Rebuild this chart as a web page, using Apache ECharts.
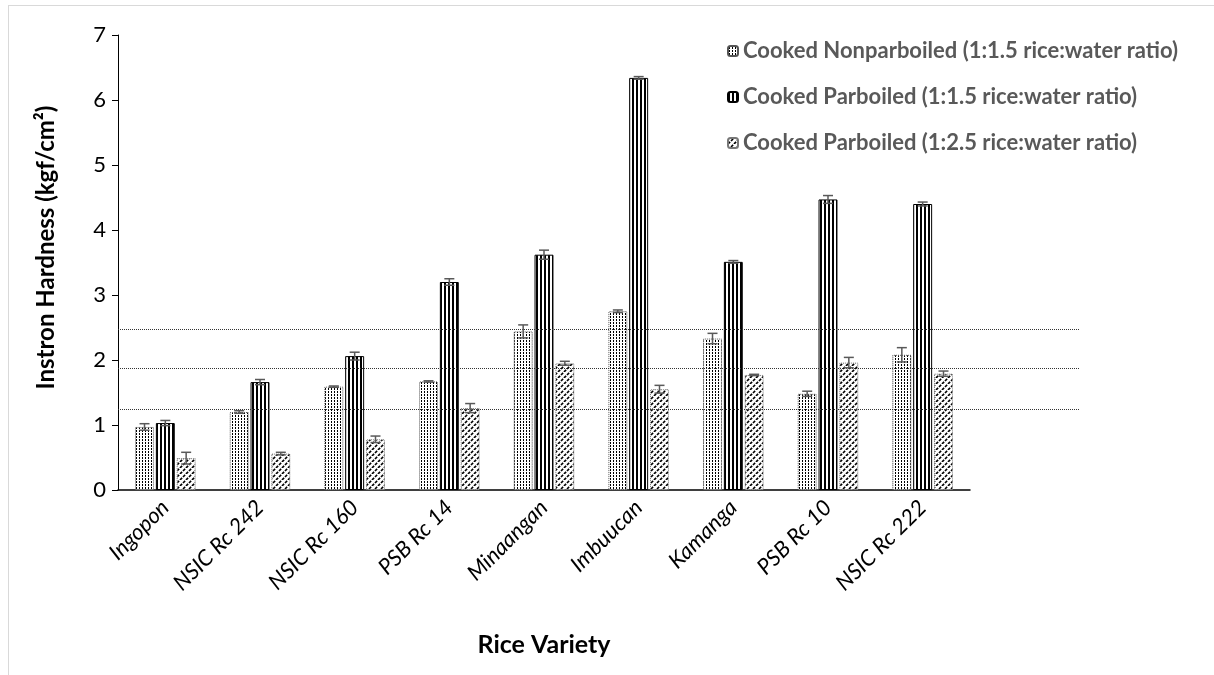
<!DOCTYPE html>
<html>
<head>
<meta charset="utf-8">
<script src="https://cdn.jsdelivr.net/npm/echarts@6/dist/echarts.min.js"></script>
<style>
  html, body { margin: 0; padding: 0; background: #fff; }
  #frame { position: absolute; left: 8px; top: 5px; width: 1300px; height: 700px;
           border-left: 1px solid #d9d9d9; border-top: 1px solid #d9d9d9; }
  #chart { position: absolute; left: 0; top: 0; width: 1214px; height: 675px; }
</style>
</head>
<body>
<div id="frame"></div>
<div id="chart"></div>
<script>
// rice varieties and hardness readings (kgf/cm2)
const categories = ['Ingopon', 'NSIC Rc 242', 'NSIC Rc 160', 'PSB Rc 14', 'Minaangan', 'Imbuucan', 'Kamanga', 'PSB Rc 10', 'NSIC Rc 222'];
const seriesNames = [
  'Cooked Nonparboiled (1:1.5 rice:water ratio)',
  'Cooked Parboiled (1:1.5 rice:water ratio)',
  'Cooked Parboiled (1:2.5 rice:water ratio)'
];
const nonParboiled = [0.97, 1.20, 1.59, 1.67, 2.44, 2.75, 2.33, 1.48, 2.08];
const nonParboiledErr = [0.05, 0.02, 0.01, 0.01, 0.10, 0.02, 0.08, 0.04, 0.11];
const parboiled15 = [1.03, 1.66, 2.06, 3.20, 3.62, 6.34, 3.51, 4.47, 4.40];
const parboiled15Err = [0.04, 0.04, 0.06, 0.05, 0.07, 0.02, 0.02, 0.06, 0.03];
const parboiled25 = [0.49, 0.56, 0.78, 1.26, 1.95, 1.55, 1.77, 1.96, 1.79];
const parboiled25Err = [0.09, 0.02, 0.05, 0.07, 0.03, 0.06, 0.01, 0.08, 0.04];
const refLines = [2.48, 1.88, 1.25];

const CAT_GAP = 0.36, BAR_GAP = 0.10;
const FONT = 'Lato';

// fill patterns (like the Excel ones)
function makePattern(w, h, draw) {
  const c = document.createElement('canvas');
  c.width = w; c.height = h;
  const ctx = c.getContext('2d');
  ctx.fillStyle = '#fff';
  ctx.fillRect(0, 0, w, h);
  ctx.fillStyle = '#000';
  ctx.strokeStyle = '#000';
  draw(ctx);
  return { image: c, repeat: 'repeat' };
}
const dots = makePattern(3, 3, ctx => { ctx.fillRect(1, 1, 1, 2); });
const stripes = makePattern(4, 4, ctx => { ctx.fillRect(0, 0, 2, 4); });
const hatch = makePattern(6, 6, ctx => {
  // dashed up-right diagonals
  ctx.lineWidth = 1.6;
  ctx.setLineDash([3, 1.24]);
  [-6, 0, 6].forEach(off => {
    ctx.beginPath();
    ctx.moveTo(off, 6);
    ctx.lineTo(off + 6, 0);
    ctx.stroke();
  });
});

const chartDom = document.getElementById('chart');
const myChart = echarts.init(chartDom);

const values = [nonParboiled, parboiled15, parboiled25];
const errs = [nonParboiledErr, parboiled15Err, parboiled25Err];
const errData = [];
for (let s = 0; s < 3; s++) {
  for (let i = 0; i < categories.length; i++) {
    errData.push([i, s, values[s][i], errs[s][i]]);
  }
}

function renderErr(params, api) {
  const cat = api.value(0), s = api.value(1), v = api.value(2), e = api.value(3);
  const band = api.size([1, 0])[0];
  const usable = band * (1 - CAT_GAP);
  const bw = usable / (3 + 2 * BAR_GAP);
  const base = api.coord([cat, 0]);
  const cx = base[0] - usable / 2 + bw / 2 + s * bw * (1 + BAR_GAP);
  const hi = api.coord([cat, v + e])[1];
  const lo = api.coord([cat, v - e])[1];
  const cap = 5;
  const style = { stroke: '#595959', lineWidth: 1.5 };
  return {
    type: 'group',
    children: [
      { type: 'line', shape: { x1: cx, y1: hi, x2: cx, y2: lo }, style: style },
      { type: 'line', shape: { x1: cx - cap, y1: hi, x2: cx + cap, y2: hi }, style: style },
      { type: 'line', shape: { x1: cx - cap, y1: lo, x2: cx + cap, y2: lo }, style: style }
    ]
  };
}

const option = {
  backgroundColor: 'transparent',
  animation: false,
  textStyle: { fontFamily: FONT },
  legend: {
    orient: 'vertical',
    left: 722,
    top: 35,
    itemWidth: 10,
    itemHeight: 10,
    itemGap: 24,
    data: seriesNames,
    textStyle: { fontFamily: FONT, fontSize: 22, fontWeight: 'bold', color: '#595959' }
  },
  grid: [
    { left: 118, right: 244, top: 35, bottom: 185 },
    { left: 118, right: 134, top: 35, bottom: 185 }
  ],
  xAxis: [
    {
      type: 'category',
      gridIndex: 0,
      data: categories,
      name: 'Rice Variety',
      nameLocation: 'middle',
      nameGap: 142,
      nameTextStyle: { fontFamily: FONT, fontSize: 25, fontWeight: 'bold', color: '#000' },
      axisLine: { lineStyle: { color: '#000', width: 1.5 } },
      axisTick: { show: false },
      axisLabel: { rotate: 45, fontStyle: 'italic', fontSize: 22, color: '#000', margin: 14, interval: 0 }
    },
    { type: 'value', gridIndex: 1, min: 0, max: 1, show: false }
  ],
  yAxis: [
    {
      type: 'value',
      gridIndex: 0,
      min: 0,
      max: 7,
      interval: 1,
      name: 'Instron Hardness (kgf/cm²)',
      nameLocation: 'middle',
      nameGap: 60,
      nameTextStyle: { fontFamily: FONT, fontSize: 24, fontWeight: 'bold', color: '#000', padding: [0, 0, 0, 30] },
      axisLine: { show: true, lineStyle: { color: '#000', width: 1 } },
      axisTick: { show: true, length: 6, lineStyle: { color: '#000' } },
      axisLabel: { fontSize: 22, color: '#000', margin: 12 },
      splitLine: { show: false }
    },
    { type: 'value', gridIndex: 1, min: 0, max: 7, show: false }
  ],
  series: [
    {
      name: seriesNames[0], type: 'bar', data: nonParboiled,
      barCategoryGap: (CAT_GAP * 100) + '%', barGap: (BAR_GAP * 100) + '%',
      itemStyle: { color: dots, borderColor: '#555', borderWidth: 1, borderType: 'dotted' }
    },
    {
      name: seriesNames[1], type: 'bar', data: parboiled15,
      itemStyle: { color: stripes, borderColor: '#000', borderWidth: 1 }
    },
    {
      name: seriesNames[2], type: 'bar', data: parboiled25,
      itemStyle: { color: hatch, borderColor: '#777', borderWidth: 1, borderType: 'dotted' }
    },
    {
      type: 'custom', name: 'err', renderItem: renderErr, data: errData,
      encode: { x: 0, y: 2 }, z: 10, silent: true
    },
    {
      type: 'line', xAxisIndex: 1, yAxisIndex: 1, data: [], silent: true,
      markLine: {
        silent: true, symbol: 'none', label: { show: false },
        lineStyle: { color: '#333', type: 'dotted', width: 1 },
        data: refLines.map(v => ({ yAxis: v }))
      }
    }
  ]
};

myChart.setOption(option);
window.addEventListener('resize', () => myChart.resize());
</script>
</body>
</html>
